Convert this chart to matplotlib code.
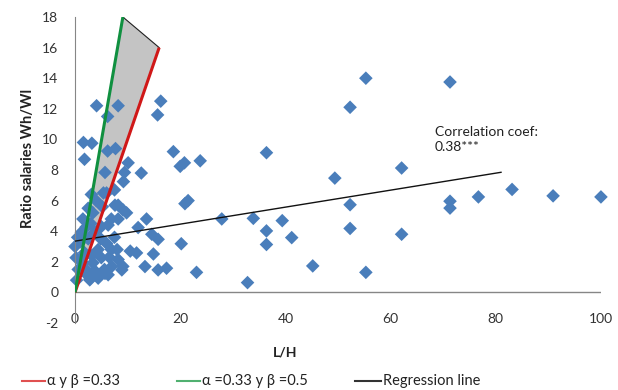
import matplotlib
matplotlib.use('Agg')
import matplotlib.pyplot as plt
from matplotlib.lines import Line2D

plt.rcParams['font.family'] = ['Lato', 'DejaVu Sans']
plt.rcParams['axes.unicode_minus'] = False

# scatter: L/H vs ratio of salaries
lh = [
    # right part
    23.8, 55.3, 71.3, 52.3, 36.4, 49.4, 62.1, 83.1, 76.7, 90.9, 100.0, 71.3, 71.3,
    52.3, 27.9, 33.9, 39.4, 36.4, 41.2, 36.4, 52.3, 62.1, 45.2, 55.3, 32.8, 23.1,
    # middle
    16.3, 15.7, 18.7, 20.8, 20.0, 12.6, 21.5, 20.9, 13.6, 12.0, 14.6, 15.8, 20.2,
    11.7, 14.9, 13.3, 15.8, 17.4, 10.5, 8.9, 5.7,
    # upper left
    4.1, 8.2, 6.2, 1.6, 3.2, 1.8, 6.2, 7.7, 10.1, 5.7, 9.4, 9.2, 7.5, 5.4,
    # dense cluster
    3.1, 6.0, 8.2, 9.1, 2.5, 1.5, 3.4, 2.1, 6.9, 8.2, 6.3, 3.7, 1.2, 0.0, 0.2,
    1.5, 4.4, 5.0, 6.9, 8.2, 9.1, 5.6, 2.8, 4.4, 6.3, 2.1, 3.4, 0.6, 9.8, 1.0,
    2.5, 4.9, 6.0, 7.5, 3.0, 5.0, 8.0, 1.8, 3.2, 2.4, 7.0, 0.5, 4.0, 5.2, 1.0,
    3.8, 6.5, 0.3, 7.6, 2.9,
]
ratio = [
    8.6, 14.0, 13.75, 12.1, 9.13, 7.47, 8.13, 6.73, 6.24, 6.31, 6.24, 5.96, 5.51,
    5.73, 4.8, 4.84, 4.69, 4.02, 3.58, 3.13, 4.18, 3.8, 1.73, 1.31, 0.64, 1.31,
    12.5, 11.6, 9.2, 8.47, 8.24, 7.8, 6.0, 5.8, 4.8, 4.24, 3.8, 3.47, 3.18,
    2.58, 2.51, 1.69, 1.47, 1.58, 2.7, 1.47, 1.24,
    12.2, 12.2, 11.5, 9.8, 9.75, 8.7, 9.24, 9.4, 8.47, 7.84, 7.84, 7.24, 6.7, 6.5,
    6.4, 6.5, 5.7, 5.4, 5.5, 4.8, 5.2, 4.27, 4.8, 4.8, 4.4, 3.93, 3.93, 3.0, 2.27,
    1.93, 2.8, 2.27, 2.8, 2.15, 1.7, 1.5, 0.82, 0.93, 1.15, 1.5, 1.93, 1.5, 5.2, 3.3,
    3.5, 3.5, 3.2, 3.6, 4.5, 4.3, 2.8, 2.6, 2.4, 1.1, 1.7, 3.6, 6.0, 5.6, 2.2,
    1.4, 2.3, 0.8, 5.7, 0.9,
]

# theoretical lines and regression
red_x = [0, 16]
red_y = [0, 16]
green_x = [0, 9.1]
green_y = [0, 18]
reg_x = [0, 81]
reg_y = [3.35, 7.85]

xticks = [0, 20, 40, 60, 80, 100]
yticks = list(range(-2, 19, 2))

fig = plt.figure(figsize=(6.18, 3.90), dpi=100)
ax = fig.add_axes([0.1214, 0.1718, 0.851, 0.7846])

# shaded area between the two theoretical lines
ax.fill([0, green_x[1], red_x[1]], [0, green_y[1], red_y[1]],
        color='#C4C4C4', zorder=1, lw=0)
ax.plot([green_x[1], red_x[1]], [green_y[1], red_y[1]], color='#202020', lw=0.8, zorder=1.5)

ax.scatter(lh, ratio, marker='D', s=48, color='#4A7EBB', edgecolors='none', zorder=2, clip_on=False)

ax.plot(reg_x, reg_y, color='#111111', lw=1.0, zorder=3)
ax.plot(red_x, red_y, color='#D01818', lw=2.2, zorder=4, solid_capstyle='butt')
ax.plot(green_x, green_y, color='#109040', lw=2.2, zorder=4, solid_capstyle='butt')

ax.text(68.4, 10.9, 'Correlation coef:\n0.38***', fontsize=10, color='#222222',
        ha='left', va='top', linespacing=1.35)

ax.set_xlim(0, 100)
ax.set_ylim(-2, 18)
for s in ['top', 'right', 'bottom']:
    ax.spines[s].set_visible(False)
ax.spines['left'].set_color('#868686')
ax.axhline(0, color='#868686', lw=1.0, zorder=0.5)

ax.set_xticks(xticks)
ax.set_yticks(yticks)
ax.tick_params(axis='x', length=0, pad=-7, labelsize=10, labelcolor='#333333')
ax.tick_params(axis='y', length=0, pad=12, labelsize=10, labelcolor='#333333')

fig.text(0.045, 0.595, 'Ratio salaries Wh/Wl', rotation=90, fontsize=10.5,
         fontweight='bold', ha='center', va='center', color='#222222')
fig.text(0.461, 0.095, 'L/H', fontsize=10, fontweight='bold', ha='center', va='center',
         color='#222222')

# legend drawn by hand along the bottom
items = [
    (22, 45, '#E05050', 'α y β =0.33'),
    (177, 200, '#50B070', 'α =0.33 y β =0.5'),
    (355, 381, '#333333', 'Regression line'),
]
ly = 0.022
for x0, x1, col, lab in items:
    fig.add_artist(Line2D([x0 / 618, x1 / 618], [ly, ly], color=col, lw=1.5))
    fig.text((x1 + 2) / 618, ly, lab, fontsize=10.5, ha='left', va='center', color='#222222')

fig.savefig('out.png', dpi=100)
